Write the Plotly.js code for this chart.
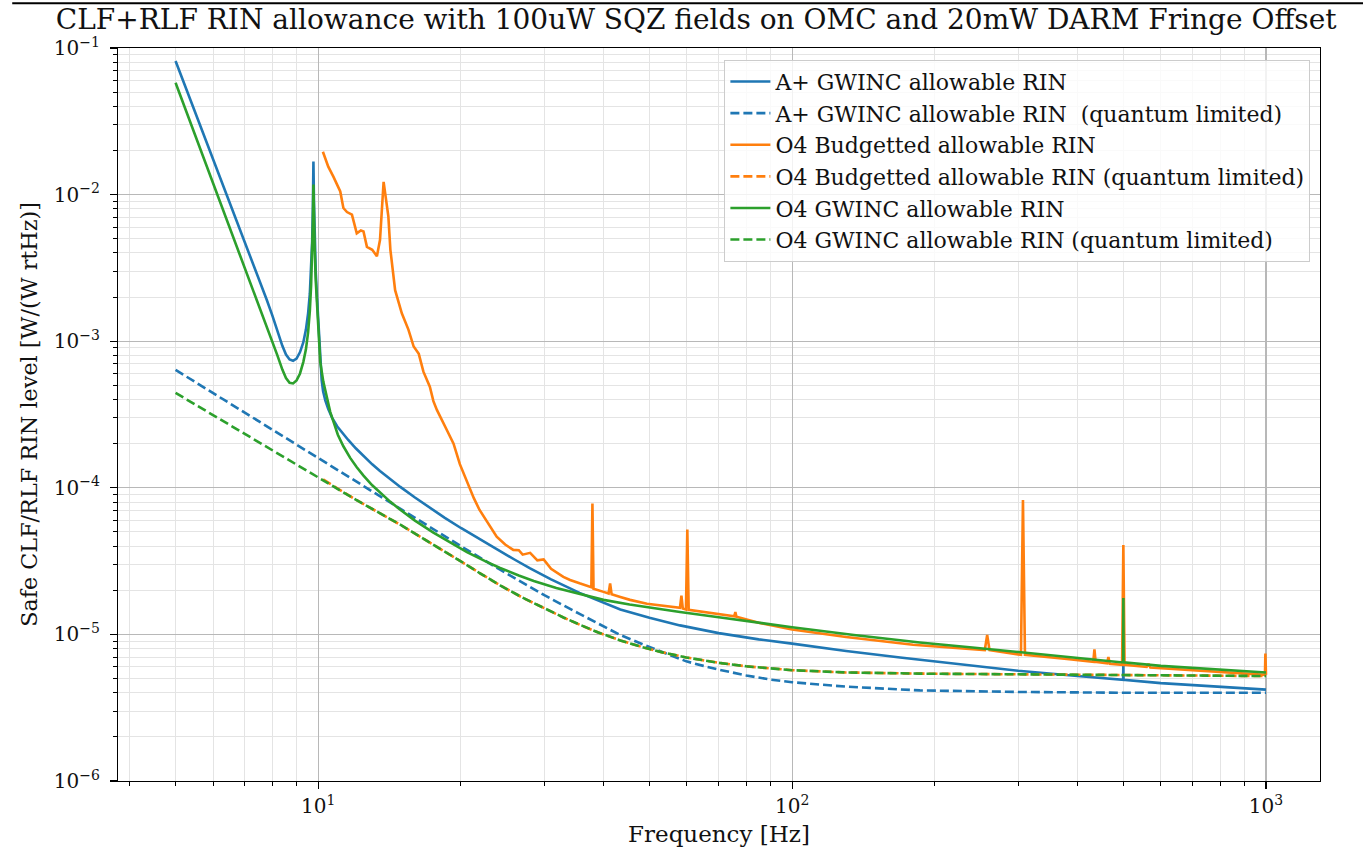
<!DOCTYPE html>
<html>
<head>
<meta charset="utf-8">
<script src="https://cdn.plot.ly/plotly-3.0.1.min.js"></script>
<style>
  html, body { margin: 0; padding: 0; background: #fff; }
  #chart { width: 1363px; height: 849px; }
</style>
</head>
<body>
<div id="chart"></div>
<script>
// ---------------- data ----------------
const titleText = "CLF+RLF RIN allowance with 100uW SQZ fields on OMC and 20mW DARM Fringe Offset";
const xLabel = "Frequency [Hz]";
const yLabel = "Safe CLF/RLF RIN level [W/(W rtHz)]";

const seriesNames = [
  "A+ GWINC allowable RIN",
  "A+ GWINC allowable RIN\u00a0 (quantum limited)",
  "O4 Budgetted allowable RIN",
  "O4 Budgetted allowable RIN (quantum limited)",
  "O4 GWINC allowable RIN",
  "O4 GWINC allowable RIN (quantum limited)"
];

// A+ GWINC allowable RIN
const aplusFreq = [5, 5.3, 5.64, 6.0, 6.3, 6.63, 7.0, 7.4, 7.79, 8.0, 8.2, 8.4, 8.55, 8.7, 8.85, 9.0, 9.15,
  9.3, 9.42, 9.52, 9.6, 9.66, 9.71, 9.745, 9.77, 9.795, 9.83, 9.88, 9.94, 10.0, 10.05, 10.1, 10.17, 10.24,
  10.35, 10.5, 10.7, 10.97, 11.3, 11.57, 12.0, 12.45, 13.0, 13.5, 14.2, 14.9, 16, 17, 18.5, 20, 22, 24.2,
  26, 28, 31, 35.6, 40, 43.4, 50, 58, 70, 85, 100, 130, 169, 220, 300, 400, 493, 499.5, 500, 500.5, 600,
  800, 1000];
const aplusRin = [0.0815, 0.0498, 0.0300, 0.01743, 0.01153, 7.47e-3, 4.73e-3, 2.96e-3, 1.91e-3, 1.5e-3,
  1.17e-3, 9.3e-4, 8.1e-4, 7.5e-4, 7.35e-4, 7.6e-4, 8.4e-4, 9.8e-4, 1.2e-3, 1.55e-3, 2.1e-3, 3.0e-3,
  4.8e-3, 8.5e-3, 0.0168, 9.0e-3, 4.8e-3, 3.0e-3, 2.0e-3, 1.35e-3, 9.5e-4, 7.0e-4, 5.4e-4, 4.55e-4,
  3.95e-4, 3.45e-4, 3.0e-4, 2.62e-4, 2.32e-4, 2.12e-4, 1.86e-4, 1.647e-4, 1.446e-4, 1.30e-4, 1.141e-4,
  1.014e-4, 8.58e-5, 7.48e-5, 6.24e-5, 5.32e-5, 4.42e-5, 3.68e-5, 3.23e-5, 2.82e-5, 2.37e-5, 1.92e-5,
  1.64e-5, 1.48e-5, 1.297e-5, 1.152e-5, 1.02e-5, 9.25e-6, 8.65e-6, 7.7e-6, 6.95e-6, 6.3e-6, 5.65e-6,
  5.2e-6, 4.92e-6, 4.9e-6, 6.5e-6, 4.9e-6, 4.65e-6, 4.38e-6, 4.2e-6];

// A+ GWINC allowable RIN (quantum limited)
const aplusQFreq = [5, 7, 10, 12, 14.9, 17, 20, 24.2, 27, 30, 35.6, 40, 43.4, 50, 55, 59.8, 65, 70, 80, 90,
  100, 130, 186, 300, 500, 1000];
const aplusQRin = [6.37e-4, 3.25e-4, 1.59e-4, 1.1e-4, 7.2e-5, 5.55e-5, 4.0e-5, 2.76e-5, 2.24e-5, 1.85e-5,
  1.38e-5, 1.13e-5, 9.9e-6, 8.2e-6, 7.25e-6, 6.55e-6, 6.1e-6, 5.75e-6, 5.25e-6, 4.92e-6, 4.72e-6, 4.4e-6,
  4.15e-6, 4.05e-6, 4.0e-6, 4.0e-6];

// O4 Budgetted allowable RIN
const o4bFreq = [10.23, 10.5, 10.77, 11.13, 11.3, 11.5, 11.78, 12.06, 12.3, 12.46, 12.67, 13.0, 13.3, 13.5,
  13.74, 14.06, 14.2, 14.53, 15.01, 15.5, 15.9, 16.3, 16.67, 17.2, 17.5, 17.8, 18.68, 19.3, 19.9, 20.6, 21.3,
  21.9, 22.8, 23.8, 24.8, 25.8, 26.5, 27, 28, 29, 29.9, 31, 32.9, 34, 35.6, 37.5, 37.7, 37.9, 38.1, 40, 41.0,
  41.3, 41.6, 43.4, 45.5, 49.4, 55, 58.0, 58.4, 58.8, 59.7, 60.1, 60.5, 65, 70, 75.5, 75.9, 76.3, 85, 100,
  130, 180, 255, 258, 261, 300, 304, 307, 310, 380, 432, 434.5, 437, 462, 465, 468, 497, 500, 503, 560, 565,
  570, 700, 850, 995, 997, 1000];
const o4bRin = [0.0196, 0.0155, 0.0132, 0.0105, 8.1e-3, 7.6e-3, 7.3e-3, 5.45e-3, 5.7e-3, 5.6e-3, 4.4e-3,
  4.2e-3, 3.8e-3, 4.9e-3, 0.0122, 7.1e-3, 4.2e-3, 2.23e-3, 1.55e-3, 1.2e-3, 9.2e-4, 8.2e-4, 6.2e-4, 4.9e-4,
  3.9e-4, 3.4e-4, 2.48e-4, 2.0e-4, 1.45e-4, 1.1e-4, 8.5e-5, 7.06e-5, 5.8e-5, 4.64e-5, 4.1e-5, 3.77e-5,
  3.75e-5, 3.5e-5, 3.6e-5, 3.2e-5, 3.25e-5, 2.8e-5, 2.47e-5, 2.35e-5, 2.23e-5, 2.1e-5, 2.1e-5, 7.8e-5,
  2.05e-5, 1.95e-5, 1.9e-5, 2.23e-5, 1.88e-5, 1.8e-5, 1.72e-5, 1.62e-5, 1.55e-5, 1.52e-5, 1.84e-5, 1.5e-5,
  1.48e-5, 5.2e-5, 1.47e-5, 1.42e-5, 1.37e-5, 1.33e-5, 1.42e-5, 1.32e-5, 1.2e-5, 1.08e-5, 9.6e-6, 8.5e-6,
  7.8e-6, 9.9e-6, 7.8e-6, 7.3e-6, 7.25e-6, 8.26e-5, 7.25e-6, 6.8e-6, 6.5e-6, 7.9e-6, 6.5e-6, 6.35e-6,
  7.0e-6, 6.3e-6, 6.2e-6, 4.07e-5, 6.2e-6, 6.0e-6, 6.3e-6, 5.95e-6, 5.7e-6, 5.45e-6, 5.3e-6, 7.4e-6, 5.3e-6];

// O4 Budgetted allowable RIN (quantum limited)
const o4bQFreq = [10.24, 12, 14.9, 17, 20, 22, 24.2, 27, 30, 33, 35.6, 39, 43.4, 48, 53, 59.8, 70, 80, 100,
  130, 186, 300, 500, 1000];
const o4bQRin = [1.14e-4, 8.3e-5, 5.6e-5, 4.35e-5, 3.15e-5, 2.6e-5, 2.16e-5, 1.78e-5, 1.5e-5, 1.3e-5,
  1.166e-5, 1.03e-5, 9.1e-6, 8.24e-6, 7.57e-6, 6.96e-6, 6.4e-6, 6.06e-6, 5.7e-6, 5.5e-6, 5.4e-6, 5.33e-6,
  5.27e-6, 5.2e-6];

// O4 GWINC allowable RIN
const o4gFreq = [5, 5.3, 5.64, 6.0, 6.3, 6.63, 7.0, 7.4, 7.79, 8.0, 8.2, 8.4, 8.55, 8.7, 8.85, 9.0, 9.15,
  9.3, 9.42, 9.52, 9.6, 9.66, 9.71, 9.745, 9.77, 9.795, 9.83, 9.88, 9.94, 10.0, 10.05, 10.1, 10.25, 10.43,
  10.6, 10.8, 11.0, 11.3, 11.68, 12.06, 12.46, 13.0, 13.6, 14.2, 14.9, 16, 17.5, 19, 20.6, 22.5, 24.2, 26.5,
  28.5, 31.8, 35.6, 40, 45.4, 52, 58, 70, 85, 100, 135, 186, 240, 307, 400, 493, 499.5, 500, 500.5, 600,
  800, 1000];
const o4gRin = [0.058, 0.0351, 0.0205, 0.01203, 7.89e-3, 5.08e-3, 3.18e-3, 1.97e-3, 1.26e-3, 1.0e-3,
  8.0e-4, 6.4e-4, 5.6e-4, 5.2e-4, 5.15e-4, 5.4e-4, 6.0e-4, 7.2e-4, 8.8e-4, 1.15e-3, 1.6e-3, 2.4e-3,
  4.0e-3, 6.5e-3, 0.0117, 7.0e-3, 4.2e-3, 2.6e-3, 1.75e-3, 1.25e-3, 9.3e-4, 7.2e-4, 5.3e-4, 4.1e-4,
  3.3e-4, 2.75e-4, 2.3e-4, 1.92e-4, 1.6e-4, 1.38e-4, 1.21e-4, 1.04e-4, 9.05e-5, 8.02e-5, 7.08e-5, 5.97e-5,
  4.94e-5, 4.21e-5, 3.64e-5, 3.16e-5, 2.84e-5, 2.52e-5, 2.31e-5, 2.07e-5, 1.88e-5, 1.72e-5, 1.6e-5,
  1.49e-5, 1.42e-5, 1.31e-5, 1.2e-5, 1.12e-5, 9.9e-6, 8.8e-6, 8.15e-6, 7.5e-6, 6.9e-6, 6.45e-6, 6.45e-6,
  1.77e-5, 6.45e-6, 6.1e-6, 5.75e-6, 5.5e-6];

// O4 GWINC allowable RIN (quantum limited)
const o4gQFreq = [5, 7, 10, 12, 14.9, 17, 20, 22, 24.2, 27, 30, 33, 35.6, 39, 43.4, 48, 53, 59.8, 70, 80,
  100, 130, 186, 300, 500, 1000];
const o4gQRin = [4.44e-4, 2.32e-4, 1.17e-4, 8.3e-5, 5.6e-5, 4.35e-5, 3.15e-5, 2.6e-5, 2.16e-5, 1.78e-5,
  1.5e-5, 1.3e-5, 1.166e-5, 1.03e-5, 9.1e-6, 8.24e-6, 7.57e-6, 6.96e-6, 6.4e-6, 6.06e-6, 5.7e-6, 5.5e-6,
  5.4e-6, 5.33e-6, 5.27e-6, 5.2e-6];

const xTickVals = [10, 100, 1000];
const xTickText = ["10<sup>1</sup>", "10<sup>2</sup>", "10<sup>3</sup>"];
const yTickVals = [1e-6, 1e-5, 1e-4, 1e-3, 1e-2, 1e-1];
const yTickText = ["10<sup>\u22126</sup>", "10<sup>\u22125</sup>", "10<sup>\u22124</sup>",
  "10<sup>\u22123</sup>", "10<sup>\u22122</sup>", "10<sup>\u22121</sup>"];

// ---------------- styling ----------------
const BLUE = "#1f77b4", ORANGE = "#ff7f0e", GREEN = "#2ca02c";
const FONT = "DejaVu Serif, Liberation Serif, serif";
const LW = 2.6;
const DASH = "9px,4px";

function minorVals(lo, hi) {
  const v = [];
  for (let e = lo; e < hi; e++) for (let k = 2; k <= 9; k++) v.push(k * Math.pow(10, e));
  return v;
}

const traces = [
  {x: aplusFreq, y: aplusRin, name: seriesNames[0], line: {color: BLUE, width: LW}},
  {x: aplusQFreq, y: aplusQRin, name: seriesNames[1], line: {color: BLUE, width: LW, dash: DASH}},
  {x: o4bFreq, y: o4bRin, name: seriesNames[2], line: {color: ORANGE, width: LW}},
  {x: o4bQFreq, y: o4bQRin, name: seriesNames[3], line: {color: ORANGE, width: LW, dash: DASH}},
  {x: o4gFreq, y: o4gRin, name: seriesNames[4], line: {color: GREEN, width: LW}},
  {x: o4gQFreq, y: o4gQRin, name: seriesNames[5], line: {color: GREEN, width: LW, dash: DASH}}
].map(t => Object.assign({type: "scatter", mode: "lines", hoverinfo: "x+y+name"}, t));

const axisCommon = {
  type: "log",
  showline: true, linecolor: "#000", linewidth: 1.2, mirror: true,
  ticks: "outside", ticklen: 7, tickwidth: 1.2, tickcolor: "#000",
  showgrid: true, gridcolor: "#b8b8b8", gridwidth: 1.1,
  zeroline: false,
  tickfont: {family: FONT, size: 20, color: "#111"},
  tickmode: "array"
};

const layout = {
  width: 1363, height: 849,
  paper_bgcolor: "#fff", plot_bgcolor: "#fff",
  margin: {l: 118, r: 43, t: 48, b: 68},
  font: {family: FONT, color: "#111"},
  title: {
    text: titleText,
    font: {family: FONT, size: 28, color: "#111"},
    xref: "paper", x: 0.481, xanchor: "center",
    yref: "container", y: 0.977, yanchor: "middle"
  },
  xaxis: Object.assign({}, axisCommon, {
    range: [Math.log10(3.78), Math.log10(1300)],
    tickvals: xTickVals, ticktext: xTickText,
    title: {text: xLabel, font: {family: FONT, size: 23, color: "#111"}, standoff: 8},
    minor: {tickmode: "array", tickvals: minorVals(0, 3).concat([2000, 3000]),
      showgrid: true, gridcolor: "#e4e4e4", gridwidth: 1,
      ticks: "outside", ticklen: 4, tickwidth: 1, tickcolor: "#000"}
  }),
  yaxis: Object.assign({}, axisCommon, {
    range: [-6, -1],
    tickvals: yTickVals, ticktext: yTickText,
    ticklabelstandoff: 6,
    title: {text: yLabel, font: {family: FONT, size: 22.3, color: "#111"}, standoff: 10},
    minor: {tickmode: "array", tickvals: minorVals(-6, -1),
      showgrid: true, gridcolor: "#e4e4e4", gridwidth: 1,
      ticks: "outside", ticklen: 4, tickwidth: 1, tickcolor: "#000"}
  }),
  legend: {
    x: 0.992, xanchor: "right", y: 0.984, yanchor: "top",
    bgcolor: "rgba(255,255,255,0.82)", bordercolor: "#cccccc", borderwidth: 1,
    font: {family: FONT, size: 22, color: "#111"},
    itemwidth: 40, tracegroupgap: 0
  },
  showlegend: true,
  shapes: [{
    type: "line", xref: "paper", yref: "paper",
    x0: -0.088, x1: 1.04, y0: 1.061, y1: 1.061,
    line: {color: "#000", width: 2}
  }]
};

Plotly.newPlot("chart", traces, layout, {displayModeBar: false, staticPlot: true});
</script>
</body>
</html>
